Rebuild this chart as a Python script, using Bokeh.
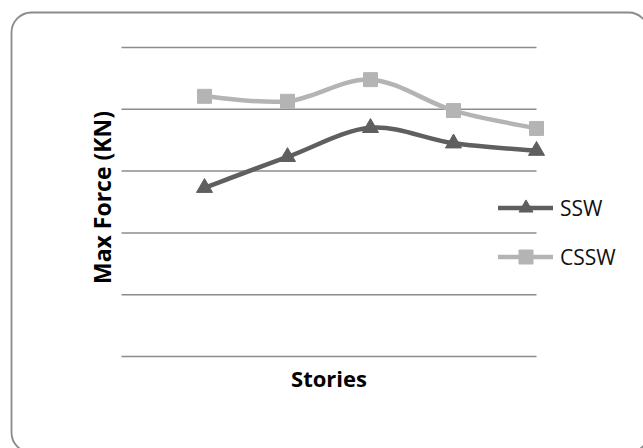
import math
from bokeh.plotting import figure
from bokeh.models import (ColumnDataSource, Legend, LegendItem,
                          BoxAnnotation, Label)
from bokeh.embed import file_html
from bokeh.resources import INLINE

# ---- data ----
stories = [1, 2, 3, 4, 5]
ssw = [2.73, 3.23, 3.70, 3.45, 3.33]
cssw = [4.21, 4.13, 4.48, 3.98, 3.69]
grid_ticks = [0, 1, 2, 3, 4, 5]
x_title = "Stories"
y_title = "Max Force (KN)"

SSW_COLOR = "#5f5f5f"
CSSW_COLOR = "#b4b4b4"
FONT = "Open Sans"

W, H = 643, 448
# plot area (pixels) in which x 0..5 / y 0..5 live
PX0, PX1 = 121, 536
PY_TOP, PY_BOT = 47, 356
xs_per = (PX1 - PX0) / 5.0
ys_per = (PY_BOT - PY_TOP) / 5.0
x_range = (-PX0 / xs_per, 5 + (W - PX1) / xs_per)
y_range = (-(H - PY_BOT) / ys_per, 5 + PY_TOP / ys_per)


def smooth_segments(xs, ys):
    """Bezier control points (Catmull-Rom style, like spreadsheet smoothing)."""
    n = len(xs)
    out = dict(x0=[], y0=[], x1=[], y1=[], cx0=[], cy0=[], cx1=[], cy1=[])
    for i in range(n - 1):
        xp, yp = (xs[i - 1], ys[i - 1]) if i > 0 else (xs[i], ys[i])
        xn, yn = (xs[i + 2], ys[i + 2]) if i + 2 < n else (xs[i + 1], ys[i + 1])
        out["x0"].append(xs[i]); out["y0"].append(ys[i])
        out["x1"].append(xs[i + 1]); out["y1"].append(ys[i + 1])
        out["cx0"].append(xs[i] + (xs[i + 1] - xp) / 6)
        out["cy0"].append(ys[i] + (ys[i + 1] - yp) / 6)
        out["cx1"].append(xs[i + 1] - (xn - xs[i]) / 6)
        out["cy1"].append(ys[i + 1] - (yn - ys[i]) / 6)
    return out


p = figure(width=W, height=H, x_range=x_range, y_range=y_range,
           x_axis_type=None, y_axis_type=None,
           output_backend="svg", toolbar_location=None, min_border=0)
p.outline_line_color = None
p.background_fill_color = "white"
p.border_fill_color = "white"
p.grid.visible = False

# horizontal gridlines across the plot area
p.segment(x0=[0] * len(grid_ticks), x1=[5] * len(grid_ticks),
          y0=grid_ticks, y1=grid_ticks, line_color="#8c8c8c", line_width=1.5)

# series
seg_s = ColumnDataSource(smooth_segments(stories, ssw))
seg_c = ColumnDataSource(smooth_segments(stories, cssw))
src_s = ColumnDataSource(dict(x=stories, y=ssw))
src_c = ColumnDataSource(dict(x=stories, y=cssw))

kw = dict(x0="x0", y0="y0", x1="x1", y1="y1", cx0="cx0", cy0="cy0",
          cx1="cx1", cy1="cy1", line_width=4.5, line_cap="round")
bc = p.bezier(source=seg_c, line_color=CSSW_COLOR, **kw)
mc = p.scatter("x", "y", source=src_c, marker="square", size=14,
               fill_color=CSSW_COLOR, line_color=CSSW_COLOR)
bs = p.bezier(source=seg_s, line_color=SSW_COLOR, **kw)
ms = p.scatter("x", "y", source=src_s, marker="triangle", size=16,
               fill_color=SSW_COLOR, line_color=SSW_COLOR)

legend = Legend(items=[LegendItem(label="SSW", renderers=[bs, ms]),
                       LegendItem(label="CSSW", renderers=[bc, mc])],
                location=(498, 174), orientation="vertical",
                glyph_width=55, glyph_height=35, label_height=35,
                spacing=14, padding=0, margin=0, label_standoff=7,
                label_text_font=FONT, label_text_font_size="21px",
                label_text_color="#111111",
                background_fill_alpha=0, border_line_color=None)
p.add_layout(legend, "center")

# axis titles
p.add_layout(Label(x=2.5, y=-(377.5 - PY_BOT) / ys_per, text=x_title,
                   text_font=FONT, text_font_style="bold",
                   text_font_size="22px", text_color="black",
                   text_align="center", text_baseline="middle"))
p.add_layout(Label(x=-(PX0 - 101) / xs_per, y=(PY_BOT - 197) / ys_per,
                   text=y_title, angle=math.pi / 2,
                   text_font=FONT, text_font_style="bold",
                   text_font_size="23px", text_color="black",
                   text_align="center", text_baseline="middle"))

# outer rounded frame (screen units: x from left, y from bottom)
box = BoxAnnotation(left=11, right=648, top=H - 12, bottom=-4,
                    left_units="screen", right_units="screen",
                    top_units="screen", bottom_units="screen",
                    fill_color=None, fill_alpha=0,
                    line_color="#8a8a8a", line_alpha=1.0, line_width=1.8,
                    border_radius=20, level="underlay")
p.add_layout(box)

open("out.html", "w").write(file_html(p, INLINE))
